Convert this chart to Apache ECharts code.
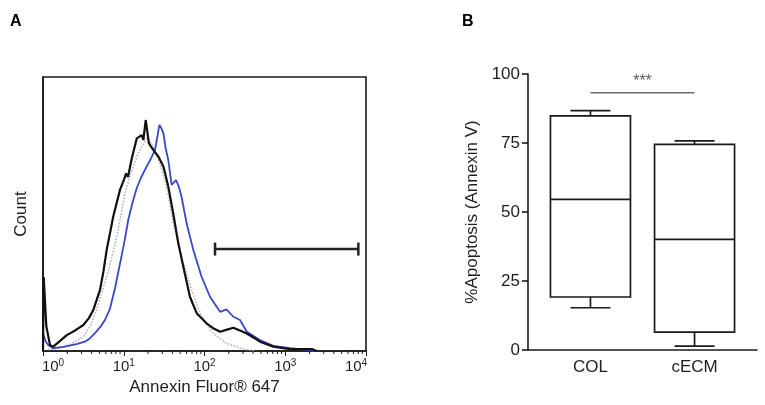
<!DOCTYPE html>
<html><head><meta charset="utf-8">
<script src="https://cdn.jsdelivr.net/npm/echarts@6/dist/echarts.min.js"></script>
<style>html,body{margin:0;padding:0;background:#fff}#c{width:765px;height:405px}</style>
</head><body><div id="c"></div>
<script>
// ---- Panel A: flow cytometry histograms (x = fluorescence, y = count) ----
const blackCurve = [[1.0,0],[1.02,27],[1.1,9],[1.22,2.2],[1.34,1.6],[1.6,3.5],[1.97,5.8],[2.5,7.5],[3.16,9.5],[3.7,12],[4.2,15],[5.08,22.3],[5.6,29],[6.15,36.9],[7.4,49],[8.98,58.8],[10.2,63],[10.7,64.8],[11.3,63.5],[12.5,70],[14.5,77.6],[16.7,78.8],[17.5,77],[18.7,84.3],[20.5,75.8],[23.2,73.4],[26.9,70.9],[31,67.3],[35.6,60],[41,50.2],[47.4,39.3],[54.6,30.8],[66,19.8],[80,13.8],[106,10.1],[130,8.2],[156,7.0],[190,7.8],[228,8.5],[270,7.6],[334,6.4],[400,5],[487,3.4],[712,1.6],[1150,0.7],[2140,0.7],[2450,0]];
const blueCurve = [[1.0,6.5],[1.08,3.5],[1.16,2.2],[1.34,1.0],[1.8,1.5],[2.6,2.5],[3.3,3.4],[3.8,4.6],[4.4,6.5],[5.08,8.6],[5.9,11.5],[6.76,15.5],[7.8,23],[9,32],[10.2,40],[11.4,48],[12.8,54],[14.5,59.5],[16.5,63.5],[19.2,67.3],[21.5,70],[24.4,73.4],[26,78],[27.6,82.5],[29,81.5],[31,79.4],[33,74],[35.6,69.7],[39.2,60.6],[44.4,62.4],[48,60],[52,56.3],[60,46.6],[72.7,36.9],[92,27.1],[117,19.8],[156,14.3],[187,15.2],[228,12.5],[275,11.3],[334,7.0],[487,4.0],[712,1.9],[1150,1.0],[1850,0.4],[2400,0]];
const greyCurve = [[1.15,0.5],[1.6,1.2],[2.2,2.5],[3.16,5.2],[3.9,9.5],[4.6,15],[5.3,21],[6.15,27.1],[7.1,34],[8.2,41.7],[9.3,50],[10.4,57.6],[11.7,63],[13.1,67.3],[14.8,71.5],[16.7,74.6],[19.2,77.6],[21,76.5],[23.2,74.6],[28,68.5],[34,60],[41,46.6],[52,34.4],[69,22.3],[92,12.5],[129,6.4],[187,2.8],[302,0.7],[420,0]];
const gateRange = [135, 8040];
const gateLevel = 37.2;
const minorTicks = [2,3,4,5,6,7,8,9,20,30,40,50,60,70,80,90,200,300,400,500,600,700,800,900,2000,3000,4000,5000,6000,7000,8000,9000];

// ---- Panel B: box plots ----
const categories = ['COL', 'cECM'];
const whiskerLow = [15.3, 1.4];
const q1 = [19.2, 6.5];
const median = [54.6, 40.1];
const q3 = [84.8, 74.5];
const whiskerHigh = [86.7, 75.8];
const yTicksB = [0, 25, 50, 75, 100];
const sigLevel = 93.2;
const sigLabel = '***';

const F = "'Liberation Sans', Arial, sans-serif";
const INK = '#1a1a1a';
const TXT = '#1e1e1e';
const chart = echarts.init(document.getElementById('c'));

const boxData = categories.map((c, i) => [i, whiskerLow[i], q1[i], median[i], q3[i], whiskerHigh[i]]);

function logLabel(v) {
  const e = Math.round(Math.log10(v));
  const base = e === 0 ? 'f' : (e === 4 ? 'l' : 'b');
  return '{' + base + '|10}{s|' + e + '}' + (e === 4 ? '{r|}' : '');
}

const option = {
  animation: false,
  backgroundColor: '#fff',
  textStyle: { fontFamily: F },
  title: [
    { text: 'A', left: 5, top: 9, textStyle: { fontFamily: F, fontSize: 16, fontWeight: 'bold', color: '#000' } },
    { text: 'B', left: 457, top: 9, textStyle: { fontFamily: F, fontSize: 16, fontWeight: 'bold', color: '#000' } }
  ],
  grid: [
    { left: 43, top: 77, width: 323, height: 274, show: true, borderColor: INK, borderWidth: 1.6, backgroundColor: 'transparent' },
    { left: 528, top: 74, width: 229, height: 276 }
  ],
  xAxis: [
    {
      gridIndex: 0, type: 'log', logBase: 10, min: 1, max: 10000,
      name: 'Annexin Fluor® 647', nameLocation: 'middle', nameGap: 26,
      nameTextStyle: { fontFamily: F, fontSize: 17, color: TXT },
      axisLine: { lineStyle: { color: INK, width: 1.6 } },
      axisTick: { length: 5, lineStyle: { color: INK, width: 1 } },
      splitLine: { show: false },
      axisLabel: {
        margin: 7,
        formatter: logLabel,
        rich: {
          b: { fontFamily: F, fontSize: 15, color: TXT },
          f: { fontFamily: F, fontSize: 15, color: TXT, padding: [0, 0, 0, 20] },
          l: { fontFamily: F, fontSize: 15, color: TXT },
          r: { width: 20 },
          s: { fontFamily: F, fontSize: 10, color: TXT, padding: [0, 0, 7, 0] }
        }
      }
    },
    {
      gridIndex: 1, type: 'value', min: -0.6, max: 1.6,
      axisLine: { onZero: false, lineStyle: { color: INK, width: 1.6 } },
      axisTick: { show: false },
      splitLine: { show: false },
      axisLabel: {
        customValues: [0, 1],
        formatter: v => categories[Math.round(v)] || '',
        fontFamily: F, fontSize: 17, color: TXT, margin: 9
      }
    }
  ],
  yAxis: [
    {
      gridIndex: 0, type: 'value', min: 0, max: 100,
      name: 'Count', nameLocation: 'middle', nameGap: 13, nameRotate: 90,
      nameTextStyle: { fontFamily: F, fontSize: 17, color: TXT },
      axisLine: { show: true, onZero: false, lineStyle: { color: INK, width: 1.6 } },
      axisTick: { show: false }, axisLabel: { show: false }, splitLine: { show: false }
    },
    {
      gridIndex: 1, type: 'value', min: 0, max: 100, interval: 25,
      name: '%Apoptosis (Annexin V)', nameLocation: 'middle', nameGap: 47, nameRotate: 90,
      nameTextStyle: { fontFamily: F, fontSize: 17, color: TXT },
      axisLine: { show: true, onZero: false, lineStyle: { color: INK, width: 1.6 } },
      axisTick: { length: 6, lineStyle: { color: INK, width: 1.6 } },
      axisLabel: { fontFamily: F, fontSize: 17, color: TXT, margin: 8, formatter: v => yTicksB.includes(v) ? String(v) : '' },
      splitLine: { show: false }
    }
  ],
  series: [
    { type: 'line', xAxisIndex: 0, yAxisIndex: 0, data: greyCurve, showSymbol: false, smooth: false,
      lineStyle: { color: '#b3b3b3', width: 1.6, type: 'dotted' }, z: 2 },
    { type: 'line', xAxisIndex: 0, yAxisIndex: 0, data: blueCurve, showSymbol: false,
      lineStyle: { color: '#3a47c8', width: 1.8 }, z: 3 },
    { type: 'line', xAxisIndex: 0, yAxisIndex: 0, data: blackCurve, showSymbol: false,
      lineStyle: { color: '#111', width: 2.2 }, z: 4 },
    { type: 'line', xAxisIndex: 0, yAxisIndex: 0, data: gateRange.map(x => [x, gateLevel]),
      symbol: 'rect', symbolSize: [2.5, 13], showSymbol: true,
      itemStyle: { color: '#222' }, lineStyle: { color: '#222', width: 2.6 }, z: 5 },
    { type: 'custom', xAxisIndex: 0, yAxisIndex: 0, data: minorTicks.map(v => [v, 0]), clip: false, silent: true,
      renderItem: (params, api) => {
        const p = api.coord([api.value(0), 0]);
        return { type: 'line', shape: { x1: p[0], y1: p[1], x2: p[0], y2: p[1] + 3 }, style: { stroke: INK, lineWidth: 1 } };
      }, z: 6 },
    { type: 'custom', xAxisIndex: 1, yAxisIndex: 1, data: boxData, encode: { x: 0, y: [1, 2, 3, 4, 5] }, silent: true,
      renderItem: (params, api) => {
        const i = api.value(0);
        const pLow = api.coord([i, api.value(1)]);
        const pQ1 = api.coord([i, api.value(2)]);
        const pMed = api.coord([i, api.value(3)]);
        const pQ3 = api.coord([i, api.value(4)]);
        const pHigh = api.coord([i, api.value(5)]);
        const cx = pMed[0], hw = 40, cw = 20;
        const st = { stroke: INK, lineWidth: 1.7, fill: null };
        return { type: 'group', children: [
          { type: 'rect', shape: { x: cx - hw, y: pQ3[1], width: 2 * hw, height: pQ1[1] - pQ3[1] }, style: { stroke: INK, lineWidth: 1.7, fill: '#fff' } },
          { type: 'line', shape: { x1: cx - hw, y1: pMed[1], x2: cx + hw, y2: pMed[1] }, style: st },
          { type: 'line', shape: { x1: cx, y1: pQ3[1], x2: cx, y2: pHigh[1] }, style: st },
          { type: 'line', shape: { x1: cx - cw, y1: pHigh[1], x2: cx + cw, y2: pHigh[1] }, style: st },
          { type: 'line', shape: { x1: cx, y1: pQ1[1], x2: cx, y2: pLow[1] }, style: st },
          { type: 'line', shape: { x1: cx - cw, y1: pLow[1], x2: cx + cw, y2: pLow[1] }, style: st }
        ] };
      }, z: 3 },
    { type: 'line', xAxisIndex: 1, yAxisIndex: 1, data: [[0, sigLevel], [1, sigLevel]], showSymbol: false,
      lineStyle: { color: '#6e6e6e', width: 1.5 }, z: 3 },
    { type: 'scatter', xAxisIndex: 1, yAxisIndex: 1, data: [[0.5, sigLevel]], symbolSize: 0,
      label: { show: true, position: 'top', distance: 3, formatter: sigLabel, fontFamily: F, fontSize: 16, color: '#333' }, z: 4 }
  ]
};
chart.setOption(option);
</script>
</body></html>
